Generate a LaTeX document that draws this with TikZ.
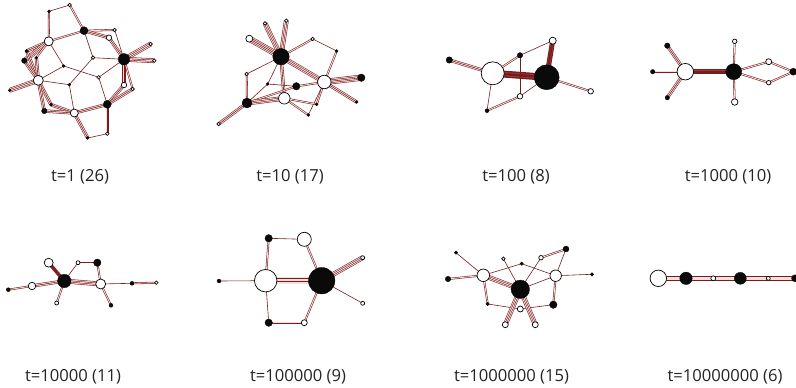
\documentclass[tikz,border=0pt]{standalone}
\usepackage{fontspec}
\setmainfont{Open Sans}
\usetikzlibrary{backgrounds}
\definecolor{ered}{RGB}{122,28,28}
\definecolor{epink}{RGB}{244,222,222}
\definecolor{labc}{RGB}{35,35,35}
\tikzset{
  wn/.style={circle, draw=black, fill=white, line width=0.7pt, inner sep=0pt, minimum size=#1},
  bn/.style={circle, draw=black, fill=black!96, line width=0.3pt, inner sep=0pt, minimum size=#1},
  e1/.style={draw=ered, line width=0.6pt},
  e2/.style={draw=ered, line width=1.95pt, postaction={draw=epink, line width=0.85pt}},
  e3/.style={draw=ered, line width=3.35pt, postaction={draw=epink, line width=2.25pt},
    postaction={draw=ered, line width=0.55pt}},
  e4/.style={draw=ered, line width=4.75pt, postaction={draw=epink, line width=3.65pt},
    postaction={draw=ered, line width=1.95pt}, postaction={draw=epink, line width=0.85pt}},
  e5/.style={draw=ered, line width=6.15pt, postaction={draw=epink, line width=5.05pt},
    postaction={draw=ered, line width=3.35pt}, postaction={draw=epink, line width=2.25pt},
    postaction={draw=ered, line width=0.55pt}},
  e6/.style={draw=ered, line width=7.55pt, postaction={draw=epink, line width=6.45pt},
    postaction={draw=ered, line width=4.75pt}, postaction={draw=epink, line width=3.65pt},
    postaction={draw=ered, line width=1.95pt}, postaction={draw=epink, line width=0.85pt}},
  es/.style={draw=ered, line width=#1, postaction={draw=ered!85!white, line width=0.6*#1},
    postaction={draw=ered, line width=0.35*#1}},
  ep/.style={draw=ered, line width=4.4pt, postaction={draw=epink, line width=3.2pt}},
  lab/.style={anchor=base, font=\fontsize{16.6}{18}\selectfont, text=labc, inner sep=0pt}
}
\begin{document}
\begin{tikzpicture}[x=1pt, y=-1pt]
\useasboundingbox (0,0) rectangle (796,388);
\clip (0,0) rectangle (796,388);
% ---------------- panel 1 ----------------
\node[wn=3.5] (p1A) at (69.7,5) {};
\node[bn=3] (p1B) at (49,11.3) {};
\node[bn=8] (p1C) at (84,30.7) {};
\node[wn=3.5] (p1D) at (114.7,30) {};
\node[wn=5.5] (p1E) at (109,37.7) {};
\node[wn=9] (p1F) at (48.7,41.3) {};
\node[wn=3.5] (p1G) at (150.7,44) {};
\node[bn=11.5] (p1H) at (124,59.3) {};
\node[wn=3.5] (p1I) at (154.3,60.7) {};
\node[bn=3.5] (p1J) at (26.7,51) {};
\node[bn=5.5] (p1K) at (24.3,60.7) {};
\node[bn=3] (p1L) at (36.3,57.7) {};
\node[wn=3.5] (p1M) at (93,57.7) {};
\node[bn=3] (p1N) at (63.7,66) {};
\node[wn=3.5] (p1O) at (98.7,77.3) {};
\node[wn=10] (p1P) at (38.3,80.3) {};
\node[bn=3] (p1Q) at (9.7,90.3) {};
\node[bn=3] (p1R) at (69.3,84.7) {};
\node[wn=5.5] (p1S) at (124,85) {};
\node[wn=3.5] (p1T) at (132.7,89) {};
\node[bn=8] (p1U) at (107.3,104.3) {};
\node[bn=3] (p1V) at (51,104.7) {};
\node[bn=5.5] (p1W) at (44.3,111) {};
\node[wn=8] (p1X) at (74.3,113) {};
\node[bn=3] (p1Y) at (87.7,138) {};
\node[wn=3.5] (p1Z) at (107.3,133.7) {};
% ---------------- panel 2 ----------------
\node[wn=3.5] (p2a) at (265,23.3) {};
\node[wn=3.5] (p2b) at (286.3,20.7) {};
\node[wn=7] (p2c) at (249.3,38.7) {};
\node[bn=16.5] (p2d) at (281,56.7) {};
\node[wn=3.5] (p2e) at (312.7,39) {};
\node[bn=3] (p2f) at (336.7,51) {};
\node[wn=3.5] (p2g) at (246.7,74) {};
\node[bn=3] (p2h) at (267.7,84) {};
\node[bn=7.5] (p2i) at (296.3,86.3) {};
\node[wn=13.5] (p2j) at (324.3,82) {};
\node[bn=7.5] (p2k) at (361.3,77.7) {};
\node[bn=10] (p2l) at (247,103) {};
\node[wn=11.5] (p2m) at (284.3,98.3) {};
\node[bn=3] (p2n) at (316.7,104.3) {};
\node[bn=3] (p2o) at (308.3,115) {};
\node[bn=3] (p2p) at (356.7,102) {};
\node[wn=3.5] (p2q) at (218.7,124) {};
% ---------------- panel 3 ----------------
\node[bn=6.5] (p3a) at (449.3,60) {};
\node[wn=23] (p3b) at (492.7,73.3) {};
\node[bn=5.5] (p3c) at (520,55.3) {};
\node[wn=7] (p3d) at (552.7,40.7) {};
\node[bn=25] (p3e) at (546.7,77.3) {};
\node[wn=5.5] (p3f) at (590.7,91.3) {};
\node[wn=5.5] (p3g) at (520,96.3) {};
\node[bn=4] (p3h) at (487,110.7) {};
% ---------------- panel 4 ----------------
\node[bn=5.5] (p4a) at (667.3,45.7) {};
\node[bn=4.5] (p4b) at (652.7,71.7) {};
\node[bn=4.5] (p4c) at (667.3,97.7) {};
\node[wn=16.5] (p4d) at (685.3,71.7) {};
\node[wn=4.5] (p4e) at (734.7,41.3) {};
\node[bn=16] (p4f) at (733.7,71.7) {};
\node[wn=6.5] (p4g) at (734.7,102) {};
\node[wn=6] (p4h) at (768.7,61.7) {};
\node[wn=4.5] (p4i) at (768.7,82.7) {};
\node[bn=7] (p4j) at (793.3,71.7) {};
% ---------------- panel 5 ----------------
\node[bn=4] (p5a) at (8.3,289.7) {};
\node[wn=7.5] (p5b) at (32,286) {};
\node[wn=9] (p5c) at (48.7,262.7) {};
\node[bn=13.5] (p5d) at (64.3,281) {};
\node[wn=4] (p5e) at (56.7,303) {};
\node[wn=4] (p5f) at (78,262.7) {};
\node[bn=7.5] (p5g) at (97.3,262.7) {};
\node[wn=10] (p5h) at (100.7,284) {};
\node[bn=4] (p5i) at (111,305.3) {};
\node[bn=4] (p5j) at (132,283.3) {};
\node[wn=3.5] (p5k) at (156.3,282.7) {};
% ---------------- panel 6 ----------------
\node[bn=4] (p6a) at (219,281) {};
\node[bn=7.5] (p6b) at (268.7,238.3) {};
\node[wn=14] (p6c) at (304.3,239.3) {};
\node[wn=22.5] (p6d) at (265.7,280.7) {};
\node[bn=26.5] (p6e) at (321.7,280.7) {};
\node[wn=4] (p6f) at (362.7,257.7) {};
\node[wn=4] (p6g) at (362.7,303.3) {};
\node[bn=7.5] (p6h) at (268.7,322.7) {};
\node[wn=6] (p6i) at (304.3,322.7) {};
% ---------------- panel 7 ----------------
\node[bn=3.5] (p7a) at (456,252.7) {};
\node[bn=5.5] (p7b) at (448,279) {};
\node[wn=12.5] (p7c) at (483.3,275.3) {};
\node[wn=3.5] (p7d) at (503.3,258.7) {};
\node[bn=3.5] (p7e) at (521.7,263.7) {};
\node[wn=4.5] (p7f) at (541,257.7) {};
\node[bn=6] (p7g) at (566,249) {};
\node[wn=11.5] (p7h) at (555.7,275.7) {};
\node[bn=3.5] (p7i) at (592,274.3) {};
\node[bn=18.5] (p7j) at (520.3,289.3) {};
\node[bn=3.5] (p7k) at (487.7,304) {};
\node[wn=6] (p7l) at (520.3,309) {};
\node[bn=7.5] (p7m) at (553.3,304.7) {};
\node[wn=6] (p7n) at (505.3,324.7) {};
\node[wn=6] (p7o) at (535.3,324.7) {};
% ---------------- panel 8 ----------------
\node[wn=16.5] (p8a) at (658.3,278.3) {};
\node[bn=12.5] (p8b) at (686,278.3) {};
\node[wn=5] (p8c) at (713.3,278.3) {};
\node[bn=12] (p8d) at (740.3,278.3) {};
\node[wn=4] (p8e) at (768.3,278.3) {};
\node[bn=7] (p8f) at (795,278.3) {};
% ---------------- edges ----------------
\begin{pgfonlayer}{background}
% panel 1
\draw[e1] (p1A.center) -- (p1B.center);
\draw[e2] (p1A.center) -- (p1C.center);
\draw[e2] (p1B.center) -- (p1F.center);
\draw[e2] (p1C.center) -- (p1F.center);
\draw[e2] (p1C.center) -- (p1D.center);
\draw[e3] (p1C.center) -- (p1E.center);
\draw[e1] (p1C.center) -- (p1M.center);
\draw[e1] (p1D.center) -- (p1H.center);
\draw[e3] (p1E.center) -- (p1H.center);
\draw[e4] (p1G.center) -- (p1H.center);
\draw[e4] (p1H.center) -- (p1I.center);
\draw[e1] (p1H.center) -- (p1M.center);
\draw[e1] (p1H.center) -- (p1O.center);
\draw[e3] (p1H.center) -- (p1S.center);
\draw[e2] (p1H.center) -- (p1T.center);
\draw[e3] (p1F.center) -- (p1J.center);
\draw[e4] (p1F.center) -- (p1K.center);
\draw[e2] (p1F.center) -- (p1L.center);
\draw[e1] (p1F.center) -- (p1N.center);
\draw[e3] (p1P.center) -- (p1J.center);
\draw[e3] (p1P.center) -- (p1K.center);
\draw[e3] (p1P.center) -- (p1L.center);
\draw[e4] (p1P.center) -- (p1Q.center);
\draw[e1] (p1P.center) -- (p1N.center);
\draw[e1] (p1P.center) -- (p1R.center);
\draw[e3] (p1P.center) -- (p1V.center);
\draw[e3] (p1P.center) -- (p1W.center);
\draw[e1] (p1M.center) -- (p1R.center);
\draw[e1] (p1N.center) -- (p1O.center);
\draw[e1] (p1O.center) -- (p1U.center);
\draw[e1] (p1R.center) -- (p1X.center);
\draw[e3] (p1V.center) -- (p1X.center);
\draw[e3] (p1W.center) -- (p1X.center);
\draw[e3] (p1X.center) -- (p1U.center);
\draw[e3] (p1X.center) -- (p1Y.center);
\draw[e3] (p1U.center) -- (p1Z.center);
\draw[e1] (p1Y.center) -- (p1Z.center);
\draw[e3] (p1U.center) -- (p1S.center);
\draw[e3] (p1U.center) -- (p1T.center);
% panel 2
\draw[e4] (p2d.center) -- (p2a.center);
\draw[e4] (p2d.center) -- (p2b.center);
\draw[e5] (p2d.center) -- (p2c.center);
\draw[e2] (p2d.center) -- (p2e.center);
\draw[e4] (p2d.center) -- (p2j.center);
\draw[e3] (p2d.center) -- (p2m.center);
\draw[e1] (p2d.center) -- (p2h.center);
\draw[e1] (p2d.center) -- (p2g.center);
\draw[e1] (p2e.center) -- (p2f.center);
\draw[e2] (p2f.center) -- (p2j.center);
\draw[e2] (p2g.center) -- (p2l.center);
\draw[e1] (p2h.center) -- (p2l.center);
\draw[e1] (p2h.center) -- (p2i.center);
\draw[e2] (p2i.center) -- (p2j.center);
\draw[e2] (p2l.center) -- (p2i.center);
\draw[e4] (p2l.center) -- (p2m.center);
\draw[e5] (p2j.center) -- (p2k.center);
\draw[e3] (p2j.center) -- (p2p.center);
\draw[e2] (p2j.center) -- (p2n.center);
\draw[e1] (p2j.center) -- (p2o.center);
\draw[e2] (p2m.center) -- (p2n.center);
\draw[e2] (p2m.center) -- (p2o.center);
\draw[e3] (p2l.center) -- (p2q.center);
% panel 3
\draw[e3] (p3a.center) -- (p3b.center);
\draw[e2] (p3b.center) -- (p3c.center);
\draw[es=7pt] (p3b.center) -- (p3e.center);
\draw[e1] (p3b.center) -- (p3h.center);
\draw[e1] (p3c.center) -- (p3d.center);
\draw[e1] (p3c.center) -- (p3g.center);
\draw[es=5pt] (p3d.center) -- (p3e.center);
\draw[e2] (p3e.center) -- (p3f.center);
\draw[e1] (p3e.center) -- (p3g.center);
\draw[e2] (p3g.center) -- (p3h.center);
% panel 4
\draw[e3] (p4a.center) -- (p4d.center);
\draw[e2] (p4b.center) -- (p4d.center);
\draw[e3] (p4c.center) -- (p4d.center);
\draw[es=5.5pt] (p4d.center) -- (p4f.center);
\draw[e2] (p4e.center) -- (p4f.center);
\draw[e2] (p4f.center) -- (p4g.center);
\draw[e2] (p4f.center) -- (p4h.center);
\draw[e2] (p4f.center) -- (p4i.center);
\draw[e2] (p4h.center) -- (p4j.center);
\draw[e2] (p4i.center) -- (p4j.center);
% panel 5
\draw[e2] (p5a.center) -- (p5b.center);
\draw[e3] (p5b.center) -- (p5d.center);
\draw[es=3.5pt] (p5c.center) -- (p5d.center);
\draw[e2] (p5d.center) -- (p5e.center);
\draw[e1] (p5d.center) -- (p5f.center);
\draw[e1] (p5f.center) -- (p5g.center);
\draw[e2] (p5g.center) -- (p5h.center);
\draw[e4] (p5d.center) -- (p5h.center);
\draw[e2] (p5h.center) -- (p5i.center);
\draw[e1] (p5h.center) -- (p5j.center);
\draw[e2] (p5j.center) -- (p5k.center);
% panel 6
\draw[e1] (p6a.center) -- (p6d.center);
\draw[e1] (p6b.center) -- (p6c.center);
\draw[e2] (p6b.center) -- (p6d.center);
\draw[e2] (p6c.center) -- (p6e.center);
\draw[e6] (p6d.center) -- (p6e.center);
\draw[e1] (p6d.center) -- (p6h.center);
\draw[e2] (p6h.center) -- (p6i.center);
\draw[e2] (p6i.center) -- (p6e.center);
\draw[e4] (p6e.center) -- (p6f.center);
\draw[e1] (p6e.center) -- (p6g.center);
% panel 7
\draw[e1] (p7a.center) -- (p7c.center);
\draw[e2] (p7b.center) -- (p7c.center);
\draw[e1] (p7c.center) -- (p7e.center);
\draw[e4] (p7c.center) -- (p7j.center);
\draw[e2] (p7c.center) -- (p7k.center);
\draw[e1] (p7d.center) -- (p7j.center);
\draw[e1] (p7e.center) -- (p7h.center);
\draw[e1] (p7f.center) -- (p7j.center);
\draw[e2] (p7f.center) -- (p7g.center);
\draw[e1] (p7g.center) -- (p7h.center);
\draw[e1] (p7h.center) -- (p7i.center);
\draw[e1] (p7h.center) -- (p7j.center);
\draw[e2] (p7h.center) -- (p7m.center);
\draw[e1] (p7k.center) -- (p7l.center);
\draw[e1] (p7l.center) -- (p7m.center);
\draw[e4] (p7j.center) -- (p7n.center);
\draw[e4] (p7j.center) -- (p7o.center);
% panel 8
\draw[ep] (p8a.center) -- (p8b.center);
\draw[ep] (p8b.center) -- (p8c.center);
\draw[ep] (p8c.center) -- (p8d.center);
\draw[ep] (p8d.center) -- (p8e.center);
\draw[ep] (p8e.center) -- (p8f.center);
\end{pgfonlayer}
% ---------------- labels ----------------
\node[lab] (L1) at (80,181) {t=1 (26)};
\node[lab] (L2) at (290,181) {t=10 (17)};
\node[lab] (L3) at (516,181) {t=100 (8)};
\node[lab] (L4) at (728,181) {t=1000 (10)};
\node[lab] (L5) at (73,381) {t=10000 (11)};
\node[lab] (L6) at (298,381) {t=100000 (9)};
\node[lab] (L7) at (511.5,381) {t=1000000 (15)};
\node[lab] (L8) at (725,381) {t=10000000 (6)};
\end{tikzpicture}
\end{document}
